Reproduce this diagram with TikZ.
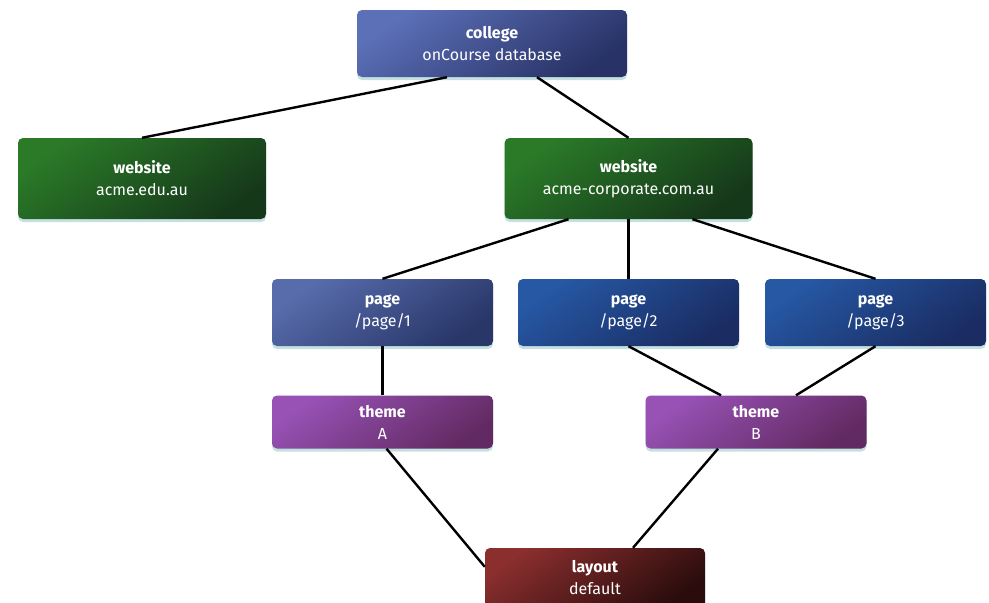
\documentclass[tikz,border=0pt]{standalone}
\usepackage{fontspec}
\setmainfont{Fira Sans}
\usetikzlibrary{shadows}

\definecolor{dbtop}{RGB}{92,112,184}
\definecolor{dbbot}{RGB}{40,50,102}
\definecolor{webtop}{RGB}{42,122,40}
\definecolor{webbot}{RGB}{22,56,26}
\definecolor{pagetop}{RGB}{88,108,172}
\definecolor{pagebot}{RGB}{40,54,104}
\definecolor{pagebtop}{RGB}{38,88,164}
\definecolor{pagebbot}{RGB}{26,44,98}
\definecolor{themetop}{RGB}{152,82,182}
\definecolor{themebot}{RGB}{98,42,98}
\definecolor{layouttop}{RGB}{138,46,46}
\definecolor{layoutbot}{RGB}{42,12,12}
\definecolor{glow}{RGB}{150,200,200}

\newcommand{\twoline}[2]{{\bfseries #1}\\#2}

\begin{document}
\begin{tikzpicture}[x=1pt,y=-1pt,
  box/.style={rectangle, rounded corners=5pt, text=white, align=center,
    inner sep=2pt, font=\fontsize{16}{22}\selectfont,
    drop shadow={shadow xshift=0pt, shadow yshift=-3pt, opacity=.55, fill=glow}},
  dbbox/.style={box, minimum width=270pt, minimum height=67pt,
    top color=dbtop, bottom color=dbbot, shading angle=35},
  webbox/.style={box, minimum width=248pt, minimum height=81pt,
    top color=webtop, bottom color=webbot, shading angle=35},
  pagebox/.style={box, minimum width=221pt, minimum height=67pt,
    top color=pagetop, bottom color=pagebot, shading angle=35},
  pageboxb/.style={box, minimum width=221pt, minimum height=67pt,
    top color=pagebtop, bottom color=pagebbot, shading angle=35},
  themebox/.style={box, minimum width=221pt, minimum height=53pt,
    top color=themetop, bottom color=themebot, shading angle=35},
  layoutbox/.style={box, minimum width=220pt, minimum height=60pt,
    top color=layouttop, bottom color=layoutbot, shading angle=35},
  link/.style={line width=2.4pt, black}]

  \path[use as bounding box, fill=white] (0,0) rectangle (989,603);

  \node[dbbox] (DB) at (492,43.5) {\twoline{college}{onCourse database}};
  \node[webbox] (W1) at (142,178.5) {\twoline{website}{acme.edu.au}};
  \node[webbox] (W2) at (628.5,178.5) {\twoline{website}{acme-corporate.com.au}};
  \node[pagebox] (P1) at (382.5,312.5) {\twoline{page}{/page/1}};
  \node[pageboxb] (P2) at (628.5,312.5) {\twoline{page}{/page/2}};
  \node[pageboxb] (P3) at (875.5,312.5) {\twoline{page}{/page/3}};
  \node[themebox] (TA) at (382.5,422) {\twoline{theme}{A}};
  \node[themebox] (TB) at (756,422) {\twoline{theme}{B}};
  \node[layoutbox] (LY) at (595,578) {\twoline{layout}{default}};

  \path[link] ([xshift=-45pt]DB.south) edge (W1.north);
  \path[link] ([xshift=45pt]DB.south) edge (W2.north);
  \path[link] ([xshift=-60pt]W2.south) edge (P1.north);
  \path[link] (W2.south) edge (P2.north);
  \path[link] ([xshift=64pt]W2.south) edge (P3.north);
  \path[link] (P1.south) edge (TA.north);
  \path[link] (P2.south) edge ([xshift=-35pt]TB.north);
  \path[link] (P3.south) edge ([xshift=40pt]TB.north);
  \path[link] ([xshift=4pt]TA.south) edge ([yshift=-19pt]LY.north west);
  \path[link] ([xshift=-38pt]TB.south) edge ([xshift=38pt]LY.north);
\end{tikzpicture}
\end{document}
